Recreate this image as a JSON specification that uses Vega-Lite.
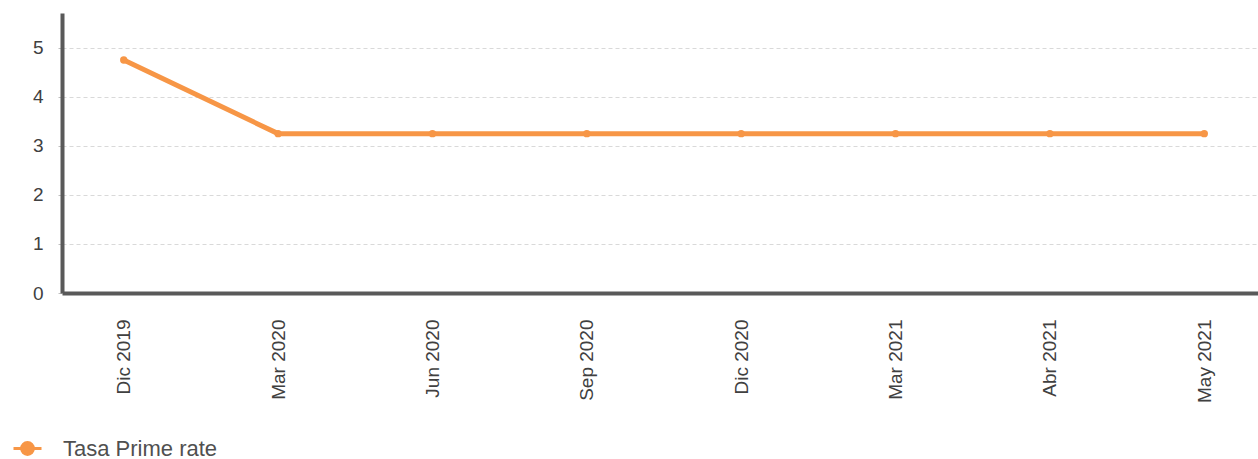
{
  "$schema": "https://vega.github.io/schema/vega-lite/v6.json",
  "autosize": "none",
  "padding": {"left": 62, "top": 13, "right": 0, "bottom": 166},
  "width": 1204,
  "height": 280,
  "background": "white",
  "config": {
    "font": "Liberation Sans",
    "view": {"stroke": null}
  },
  "data": {
    "values": [
      {"fecha": "Dic 2019", "serie": "Tasa Prime rate", "valor": 4.75},
      {"fecha": "Mar 2020", "serie": "Tasa Prime rate", "valor": 3.25},
      {"fecha": "Jun 2020", "serie": "Tasa Prime rate", "valor": 3.25},
      {"fecha": "Sep 2020", "serie": "Tasa Prime rate", "valor": 3.25},
      {"fecha": "Dic 2020", "serie": "Tasa Prime rate", "valor": 3.25},
      {"fecha": "Mar 2021", "serie": "Tasa Prime rate", "valor": 3.25},
      {"fecha": "Abr 2021", "serie": "Tasa Prime rate", "valor": 3.25},
      {"fecha": "May 2021", "serie": "Tasa Prime rate", "valor": 3.25}
    ]
  },
  "mark": {"type": "line", "strokeWidth": 5, "point": {"filled": true, "size": 55}},
  "encoding": {
    "x": {
      "field": "fecha",
      "type": "ordinal",
      "sort": null,
      "scale": {"type": "point", "padding": 0.4},
      "axis": {
        "title": null,
        "labelAngle": -90,
        "labelAlign": "right",
        "labelBaseline": "middle",
        "labelFontSize": 19,
        "labelColor": "#404040",
        "labelPadding": 26,
        "ticks": false,
        "domainColor": "#595959",
        "domainWidth": 4,
        "grid": false
      }
    },
    "y": {
      "field": "valor",
      "type": "quantitative",
      "scale": {"domain": [0, 5.71], "nice": false},
      "axis": {
        "title": null,
        "values": [0, 1, 2, 3, 4, 5],
        "labelFontSize": 19,
        "labelColor": "#404040",
        "labelPadding": 15,
        "tickSize": 4,
        "tickColor": "#bfbfbf",
        "domainColor": "#595959",
        "domainWidth": 4,
        "grid": true,
        "gridColor": "#d9d9d9",
        "gridDash": [4, 3],
        "gridWidth": 1
      }
    },
    "color": {
      "field": "serie",
      "type": "nominal",
      "scale": {"range": ["#F79646"]},
      "legend": {
        "title": null,
        "orient": "none",
        "legendX": -50,
        "legendY": 420,
        "symbolType": "M-1,0L1,0M-0.42,0A0.42,0.42 0 1,1 0.42,0A0.42,0.42 0 1,1 -0.42,0Z",
        "symbolSize": 784,
        "symbolStrokeWidth": 3,
        "symbolFillColor": "#F79646",
        "labelFontSize": 22,
        "labelColor": "#505050",
        "labelOffset": 20
      }
    }
  }
}
